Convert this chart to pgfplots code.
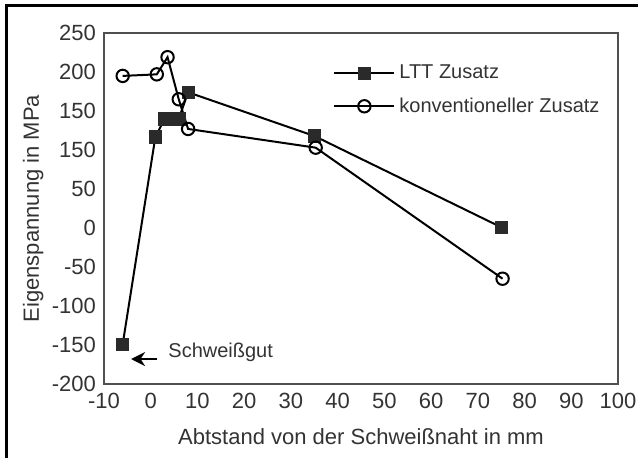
\documentclass[border=0pt]{standalone}
\usepackage{pgfplots}
\pgfplotsset{compat=1.18}
\usepackage{fontspec}
\setmainfont{Liberation Sans}
\usetikzlibrary{arrows.meta}

\definecolor{txt}{HTML}{333333}
\definecolor{axgray}{HTML}{505050}
\definecolor{markfill}{HTML}{2A2A2A}

\begin{document}
\begin{tikzpicture}
  \begin{axis}[
      at={(0,0)}, anchor=south west,
      scale only axis,
      width=257pt, height=175.5pt,
      xmin=-10, xmax=100,
      ymin=-200, ymax=250,
      xtick={-10,0,...,100},
      xticklabels={-10,0,10,20,30,40,50,60,70,80,90,100},
      ytick={-200,-150,...,250},
      % the 100 line is labelled 150 in the original
      yticklabels={-200,-150,-100,-50,0,50,150,150,200,250},
      major tick length=0pt,
      axis line style={draw=axgray, line width=0.9pt},
      tick label style={font=\fontsize{11}{13}\selectfont, text=txt},
      yticklabel style={xshift=-0.5pt},
      xticklabel style={yshift=-1pt},
      xlabel={Abtstand von der Schweißnaht in mm},
      ylabel={Eigenspannung in MPa},
      label style={font=\fontsize{11}{13}\selectfont, text=txt},
      xlabel style={at={(axis description cs:0.5,-0.151)}, anchor=center},
      ylabel style={at={(axis description cs:-0.138,0.5)}, anchor=center},
      legend style={draw=none, fill=none,
        at={(rel axis cs:0.4455,0.922)}, anchor=north west,
        font=\fontsize{10}{12}\selectfont, text=txt,
        row sep=4pt, inner sep=0pt},
      legend cell align=left,
      legend image code/.code={
        \draw[mark repeat=2,mark phase=2] plot coordinates {(0pt,0pt) (15pt,0pt) (30pt,0pt)};
      },
      clip=false,
    ]

    % LTT Zusatz
    \addplot[black, line width=1pt, mark=square*,
      mark size=3.1pt, mark options={fill=markfill, draw=markfill, line width=0.4pt}]
      coordinates {
        (-6,-149)
        (1,117)
        (3,140)
        (6,140)
        (8,174)
        (35,118)
        (75,1)
    };
    \addlegendentry{LTT Zusatz}

    % konventioneller Zusatz
    \addplot[black, line width=1pt, mark=o,
      mark size=3.1pt, mark options={fill=white, line width=1pt}]
      coordinates {
        (-6,195)
        (1.3,197)
        (3.6,219)
        (6,165)
        (8,127)
        (35.3,103)
        (75.3,-65)
    };
    \addlegendentry{konventioneller Zusatz}

    \draw[-{Stealth[length=7pt,width=7pt]}, line width=1.1pt, black]
      (axis cs:1.4,-168) -- (axis cs:-4.2,-168);
    \node[anchor=west, font=\fontsize{10}{12}\selectfont, text=txt, inner sep=0pt]
      at (axis cs:3.7,-160) {Schweißgut};
  \end{axis}

  % outer frame, cut off at the right and bottom in the original
  \draw[line width=1.5pt, black] (-48.5pt,-40pt) -- (-48.5pt,189.5pt) -- (270pt,189.5pt);
  \pgfresetboundingbox
  \useasboundingbox (-52pt,-36.5pt) rectangle (267pt,192pt);
\end{tikzpicture}
\end{document}
